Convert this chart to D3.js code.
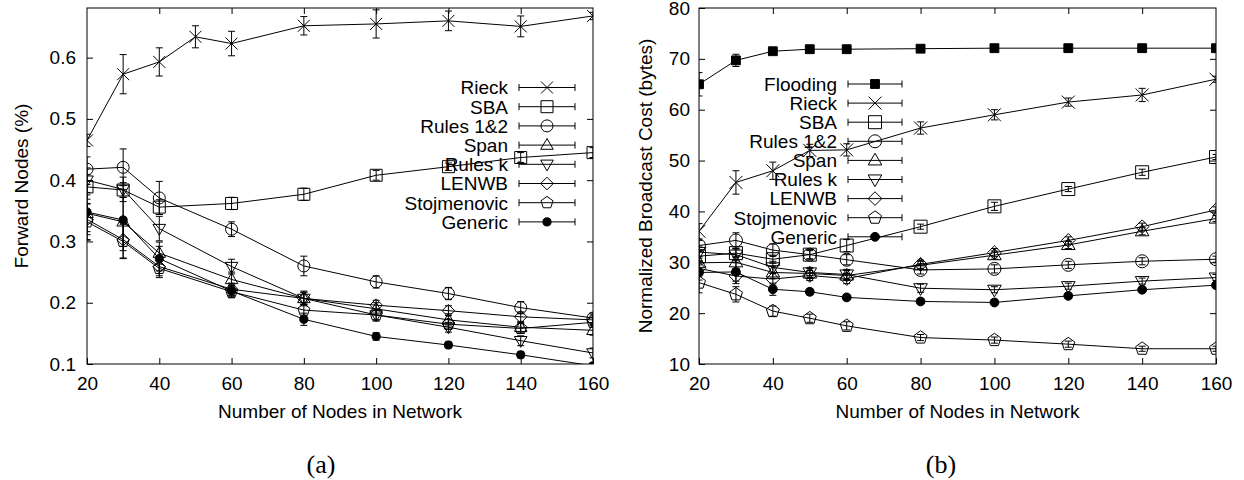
<!DOCTYPE html>
<html>
<head>
<meta charset="utf-8">
<script src="https://cdn.jsdelivr.net/npm/d3@7"></script>
<style>
body { margin: 0; background: #fff; }
svg { display: block; }
.line { fill: none; stroke: #000; stroke-width: 1; }
.err { stroke: #000; stroke-width: 1; }
.mark { fill: none; stroke: #000; stroke-width: 1; }
text { font-family: "Liberation Sans", Arial, sans-serif; fill: #000; }
</style>
</head>
<body>
<svg id="chart" width="1244" height="480"></svg>
<script>
// x values (number of nodes)
var nodesAll = [20, 30, 40, 50, 60, 80, 100, 120, 140, 160];
var nodesNo50 = [20, 30, 40, 60, 80, 100, 120, 140, 160];
var xTicks = [20, 40, 60, 80, 100, 120, 140, 160];

// (a) forward nodes
var leftRieck = [0.465, 0.573, 0.593, 0.634, 0.623, 0.652, 0.655, 0.660, 0.651, 0.668];
var leftSBA = [0.389, 0.384, 0.356, 0.362, 0.377, 0.408, 0.422, 0.437, 0.445];
var leftRules12 = [0.418, 0.421, 0.371, 0.320, 0.260, 0.234, 0.215, 0.192, 0.175];
var leftSpan = [0.346, 0.332, 0.281, 0.238, 0.207, 0.190, 0.172, 0.160, 0.155];
var leftRulesK = [0.400, 0.385, 0.321, 0.259, 0.207, 0.180, 0.160, 0.138, 0.118];
var leftLENWB = [0.336, 0.303, 0.259, 0.222, 0.207, 0.196, 0.187, 0.177, 0.172];
var leftStoj = [0.332, 0.300, 0.256, 0.218, 0.188, 0.180, 0.165, 0.158, 0.168];
var leftGeneric = [0.348, 0.335, 0.272, 0.219, 0.173, 0.145, 0.131, 0.115, 0.097];

var leftErrRieck = [0.010, 0.032, 0.023, 0.018, 0.020, 0.015, 0.023, 0.016, 0.017, 0.006];
var leftErrSBA = [0.020, 0.012, 0.012, 0.010, 0.010, 0.008, 0.006, 0.008, 0.008];
var leftErrRules12 = [0.020, 0.030, 0.027, 0.012, 0.016, 0.010, 0.010, 0.010, 0.008];
var leftErrSpan = [0.030, 0.040, 0.018, 0.012, 0.010, 0.010, 0.010, 0.008, 0.008];
var leftErrRulesK = [0.020, 0.020, 0.020, 0.012, 0.012, 0.010, 0.008, 0.008, 0.008];
var leftErrLENWB = [0.025, 0.030, 0.015, 0.010, 0.010, 0.008, 0.008, 0.008, 0.008];
var leftErrStoj = [0.030, 0.028, 0.015, 0.010, 0.010, 0.008, 0.008, 0.008, 0.008];
var leftErrGeneric = [0.045, 0.050, 0.020, 0.010, 0.010, 0.006, 0.005, 0.005, 0.005];

// (b) broadcast cost
var rightFlood = [65.0, 69.7, 71.5, 71.9, 71.9, 72.0, 72.1, 72.1, 72.1, 72.1];
var rightRieck = [36.1, 45.7, 48.0, 52.0, 52.1, 56.4, 59.0, 61.5, 62.9, 66.0];
var rightSBA = [31.2, 31.8, 30.6, 31.5, 33.3, 37.0, 41.0, 44.4, 47.7, 50.7];
var rightRules12 = [33.3, 34.3, 32.4, 31.5, 30.5, 28.5, 28.7, 29.5, 30.2, 30.6];
var rightSpan = [29.9, 30.0, 28.0, 27.8, 27.4, 29.4, 31.4, 33.4, 36.1, 38.6];
var rightRulesK = [32.0, 31.5, 29.0, 28.0, 27.6, 24.9, 24.6, 25.3, 26.3, 27.0];
var rightLENWB = [28.8, 27.3, 26.7, 27.4, 26.8, 29.6, 31.9, 34.3, 37.0, 40.3];
var rightStoj = [26.0, 23.7, 20.4, 19.0, 17.5, 15.2, 14.7, 13.9, 13.0, 13.0];
var rightGeneric = [28.0, 28.1, 24.7, 24.2, 23.1, 22.3, 22.1, 23.4, 24.6, 25.5];

var rightErrFlood = [2.3, 1.2, 0.3, 0.2, 0.2, 0.2, 0.2, 0.2, 0.2, 0.2];
var rightErrRieck = [1.5, 2.3, 1.7, 1.2, 1.2, 1.2, 1.0, 0.8, 1.3, 0.6];
var rightErrSBA = [1.0, 0.8, 0.8, 0.8, 1.2, 0.5, 0.8, 0.5, 0.6, 0.5];
var rightErrRules12 = [1.0, 1.5, 1.2, 1.0, 1.0, 0.8, 0.8, 0.7, 0.7, 0.6];
var rightErrSpan = [1.2, 1.2, 1.2, 1.0, 1.0, 0.8, 0.8, 0.7, 0.7, 0.6];
var rightErrRulesK = [1.2, 1.2, 1.2, 1.0, 1.0, 0.8, 0.6, 0.6, 0.6, 0.6];
var rightErrLENWB = [1.5, 1.5, 1.2, 1.0, 1.0, 0.8, 0.8, 0.7, 0.7, 0.6];
var rightErrStoj = [2.0, 1.5, 1.0, 0.8, 0.8, 0.6, 0.6, 0.6, 0.5, 0.5];
var rightErrGeneric = [1.5, 1.8, 1.2, 0.6, 0.5, 0.5, 0.5, 0.5, 0.5, 0.5];

var svg = d3.select("#chart");
var fontSize = "19px";

// marker shapes, r = half size
function markerPath(type, r) {
  var p = d3.path();
  if (type == "times") {
    p.moveTo(-r, -r); p.lineTo(r, r); p.moveTo(-r, r); p.lineTo(r, -r);
  } else if (type == "square" || type == "fsquare") {
    p.rect(-r, -r, 2 * r, 2 * r);
  } else if (type == "circle" || type == "fcircle") {
    p.moveTo(r, 0); p.arc(0, 0, r, 0, 2 * Math.PI);
  } else if (type == "triup") {
    p.moveTo(0, -r * 1.1); p.lineTo(r * 1.05, r * 0.7); p.lineTo(-r * 1.05, r * 0.7); p.closePath();
  } else if (type == "tridown") {
    p.moveTo(0, r * 1.1); p.lineTo(r * 1.05, -r * 0.7); p.lineTo(-r * 1.05, -r * 0.7); p.closePath();
  } else if (type == "diamond") {
    p.moveTo(0, -r * 1.05); p.lineTo(r * 1.05, 0); p.lineTo(0, r * 1.05); p.lineTo(-r * 1.05, 0); p.closePath();
  } else if (type == "pentagon") {
    for (var k = 0; k < 5; k++) {
      var a = -Math.PI / 2 + k * 2 * Math.PI / 5;
      if (k == 0) p.moveTo(r * 1.05 * Math.cos(a), r * 1.05 * Math.sin(a));
      else p.lineTo(r * 1.05 * Math.cos(a), r * 1.05 * Math.sin(a));
    }
    p.closePath();
  }
  return p.toString();
}

function drawMarker(g, type, x, y, r) {
  var filled = (type == "fsquare" || type == "fcircle");
  g.append("path")
    .attr("class", "mark")
    .attr("transform", "translate(" + x + "," + y + ")")
    .attr("d", markerPath(type, filled ? r * 0.68 : r))
    .style("fill", filled ? "#000" : "none");
}

function drawPanel(opt) {
  var margin = opt.margin;
  var width = opt.width, height = opt.height;

  var x = d3.scaleLinear().domain([20, 160]).range([0, width]);
  var y = d3.scaleLinear().domain(opt.yDomain).range([height, 0]);

  var g = svg.append("g")
    .attr("transform", "translate(" + margin.left + "," + margin.top + ")");

  g.append("clipPath").attr("id", opt.id + "clip")
    .append("rect").attr("width", width).attr("height", height);

  // axes with inward ticks, mirrored
  var xAxis = d3.axisBottom(x).tickValues(xTicks).tickSize(-6).tickPadding(13);
  var yAxis = d3.axisLeft(y).tickValues(opt.yTicks).tickSize(-6).tickPadding(opt.yPad).tickFormat(opt.yFormat);

  g.append("g").attr("transform", "translate(0," + height + ")").call(xAxis);
  g.append("g").call(yAxis);
  g.append("g").call(d3.axisTop(x).tickValues(xTicks.slice(1, -1)).tickSize(-6).tickFormat(""));
  g.append("g").attr("transform", "translate(" + width + ",0)")
    .call(d3.axisRight(y).tickValues(opt.yTicks.slice(1, -1)).tickSize(-6).tickFormat(""));

  g.selectAll(".domain").remove();
  g.selectAll(".tick line").attr("stroke", "#000");
  g.selectAll(".tick text").style("font-size", fontSize).attr("font-family", null);
  g.selectAll("g").attr("font-family", null).attr("font-size", null);

  g.append("rect").attr("width", width).attr("height", height)
    .style("fill", "none").style("stroke", "#000").style("stroke-width", 1);

  // axis titles
  g.append("text")
    .attr("x", width / 2).attr("y", height + 54)
    .attr("text-anchor", "middle").style("font-size", fontSize)
    .text("Number of Nodes in Network");
  g.append("text")
    .attr("transform", "translate(" + opt.yTitleX + "," + (height / 2) + ") rotate(-90)")
    .attr("text-anchor", "middle").attr("dy", "0.35em").style("font-size", fontSize)
    .text(opt.yTitle);

  var line = d3.line()
    .x(function(d) { return x(d[0]); })
    .y(function(d) { return y(d[1]); });

  var plot = g.append("g").attr("clip-path", "url(#" + opt.id + "clip)");

  opt.series.forEach(function(s) {
    var pts = s.xs.map(function(v, i) { return [v, s.values[i], s.errs[i]]; });
    plot.append("path").attr("class", "line").attr("d", line(pts));
    pts.forEach(function(d) {
      var px = x(d[0]), y0 = y(d[1] - d[2]), y1 = y(d[1] + d[2]);
      plot.append("line").attr("class", "err")
        .attr("x1", px).attr("x2", px).attr("y1", y0).attr("y2", y1);
      plot.append("line").attr("class", "err")
        .attr("x1", px - 3.5).attr("x2", px + 3.5).attr("y1", y0).attr("y2", y0);
      plot.append("line").attr("class", "err")
        .attr("x1", px - 3.5).attr("x2", px + 3.5).attr("y1", y1).attr("y2", y1);
      drawMarker(plot, s.marker, px, y(d[1]), opt.r);
    });
  });

  // legend
  var leg = g.append("g");
  opt.series.forEach(function(s, i) {
    var ly = opt.legend.y + i * opt.legend.step;
    var lx0 = opt.legend.x, lx1 = opt.legend.x + opt.legend.len;
    leg.append("text")
      .attr("x", lx0 - 11).attr("y", ly).attr("dy", "0.36em")
      .attr("text-anchor", "end").style("font-size", fontSize)
      .text(s.name);
    leg.append("line").attr("class", "err").attr("x1", lx0).attr("x2", lx1).attr("y1", ly).attr("y2", ly);
    leg.append("line").attr("class", "err").attr("x1", lx0).attr("x2", lx0).attr("y1", ly - 3.5).attr("y2", ly + 3.5);
    leg.append("line").attr("class", "err").attr("x1", lx1).attr("x2", lx1).attr("y1", ly - 3.5).attr("y2", ly + 3.5);
    drawMarker(leg, s.marker, (lx0 + lx1) / 2, ly, opt.r);
  });

  // sub caption
  svg.append("text")
    .attr("x", opt.captionX).attr("y", 473)
    .attr("text-anchor", "middle")
    .style("font-family", "'Liberation Serif', 'Times New Roman', serif")
    .style("font-size", "26px")
    .text(opt.caption);
}

drawPanel({
  id: "a",
  margin: {top: 8, left: 87},
  width: 506, height: 356,
  yDomain: [0.1, 0.681],
  yTicks: [0.1, 0.2, 0.3, 0.4, 0.5, 0.6],
  yFormat: d3.format(".1f"),
  yPad: 11,
  yTitle: "Forward Nodes (%)",
  yTitleX: -66,
  r: 6,
  legend: {x: 432, len: 56, y: 79.5, step: 19.2},
  caption: "(a)", captionX: 321,
  series: [
    {name: "Rieck", marker: "times", xs: nodesAll, values: leftRieck, errs: leftErrRieck},
    {name: "SBA", marker: "square", xs: nodesNo50, values: leftSBA, errs: leftErrSBA},
    {name: "Rules 1&2", marker: "circle", xs: nodesNo50, values: leftRules12, errs: leftErrRules12},
    {name: "Span", marker: "triup", xs: nodesNo50, values: leftSpan, errs: leftErrSpan},
    {name: "Rules k", marker: "tridown", xs: nodesNo50, values: leftRulesK, errs: leftErrRulesK},
    {name: "LENWB", marker: "diamond", xs: nodesNo50, values: leftLENWB, errs: leftErrLENWB},
    {name: "Stojmenovic", marker: "pentagon", xs: nodesNo50, values: leftStoj, errs: leftErrStoj},
    {name: "Generic", marker: "fcircle", xs: nodesNo50, values: leftGeneric, errs: leftErrGeneric}
  ]
});

drawPanel({
  id: "b",
  margin: {top: 8, left: 699},
  width: 517, height: 356,
  yDomain: [10, 80],
  yTicks: [10, 20, 30, 40, 50, 60, 70, 80],
  yFormat: d3.format("d"),
  yPad: 9,
  yTitle: "Normalized Broadcast Cost (bytes)",
  yTitleX: -54,
  r: 6.5,
  legend: {x: 149, len: 54, y: 76, step: 19.1},
  caption: "(b)", captionX: 941,
  series: [
    {name: "Flooding", marker: "fsquare", xs: nodesAll, values: rightFlood, errs: rightErrFlood},
    {name: "Rieck", marker: "times", xs: nodesAll, values: rightRieck, errs: rightErrRieck},
    {name: "SBA", marker: "square", xs: nodesAll, values: rightSBA, errs: rightErrSBA},
    {name: "Rules 1&2", marker: "circle", xs: nodesAll, values: rightRules12, errs: rightErrRules12},
    {name: "Span", marker: "triup", xs: nodesAll, values: rightSpan, errs: rightErrSpan},
    {name: "Rules k", marker: "tridown", xs: nodesAll, values: rightRulesK, errs: rightErrRulesK},
    {name: "LENWB", marker: "diamond", xs: nodesAll, values: rightLENWB, errs: rightErrLENWB},
    {name: "Stojmenovic", marker: "pentagon", xs: nodesAll, values: rightStoj, errs: rightErrStoj},
    {name: "Generic", marker: "fcircle", xs: nodesAll, values: rightGeneric, errs: rightErrGeneric}
  ]
});
</script>
</body>
</html>
